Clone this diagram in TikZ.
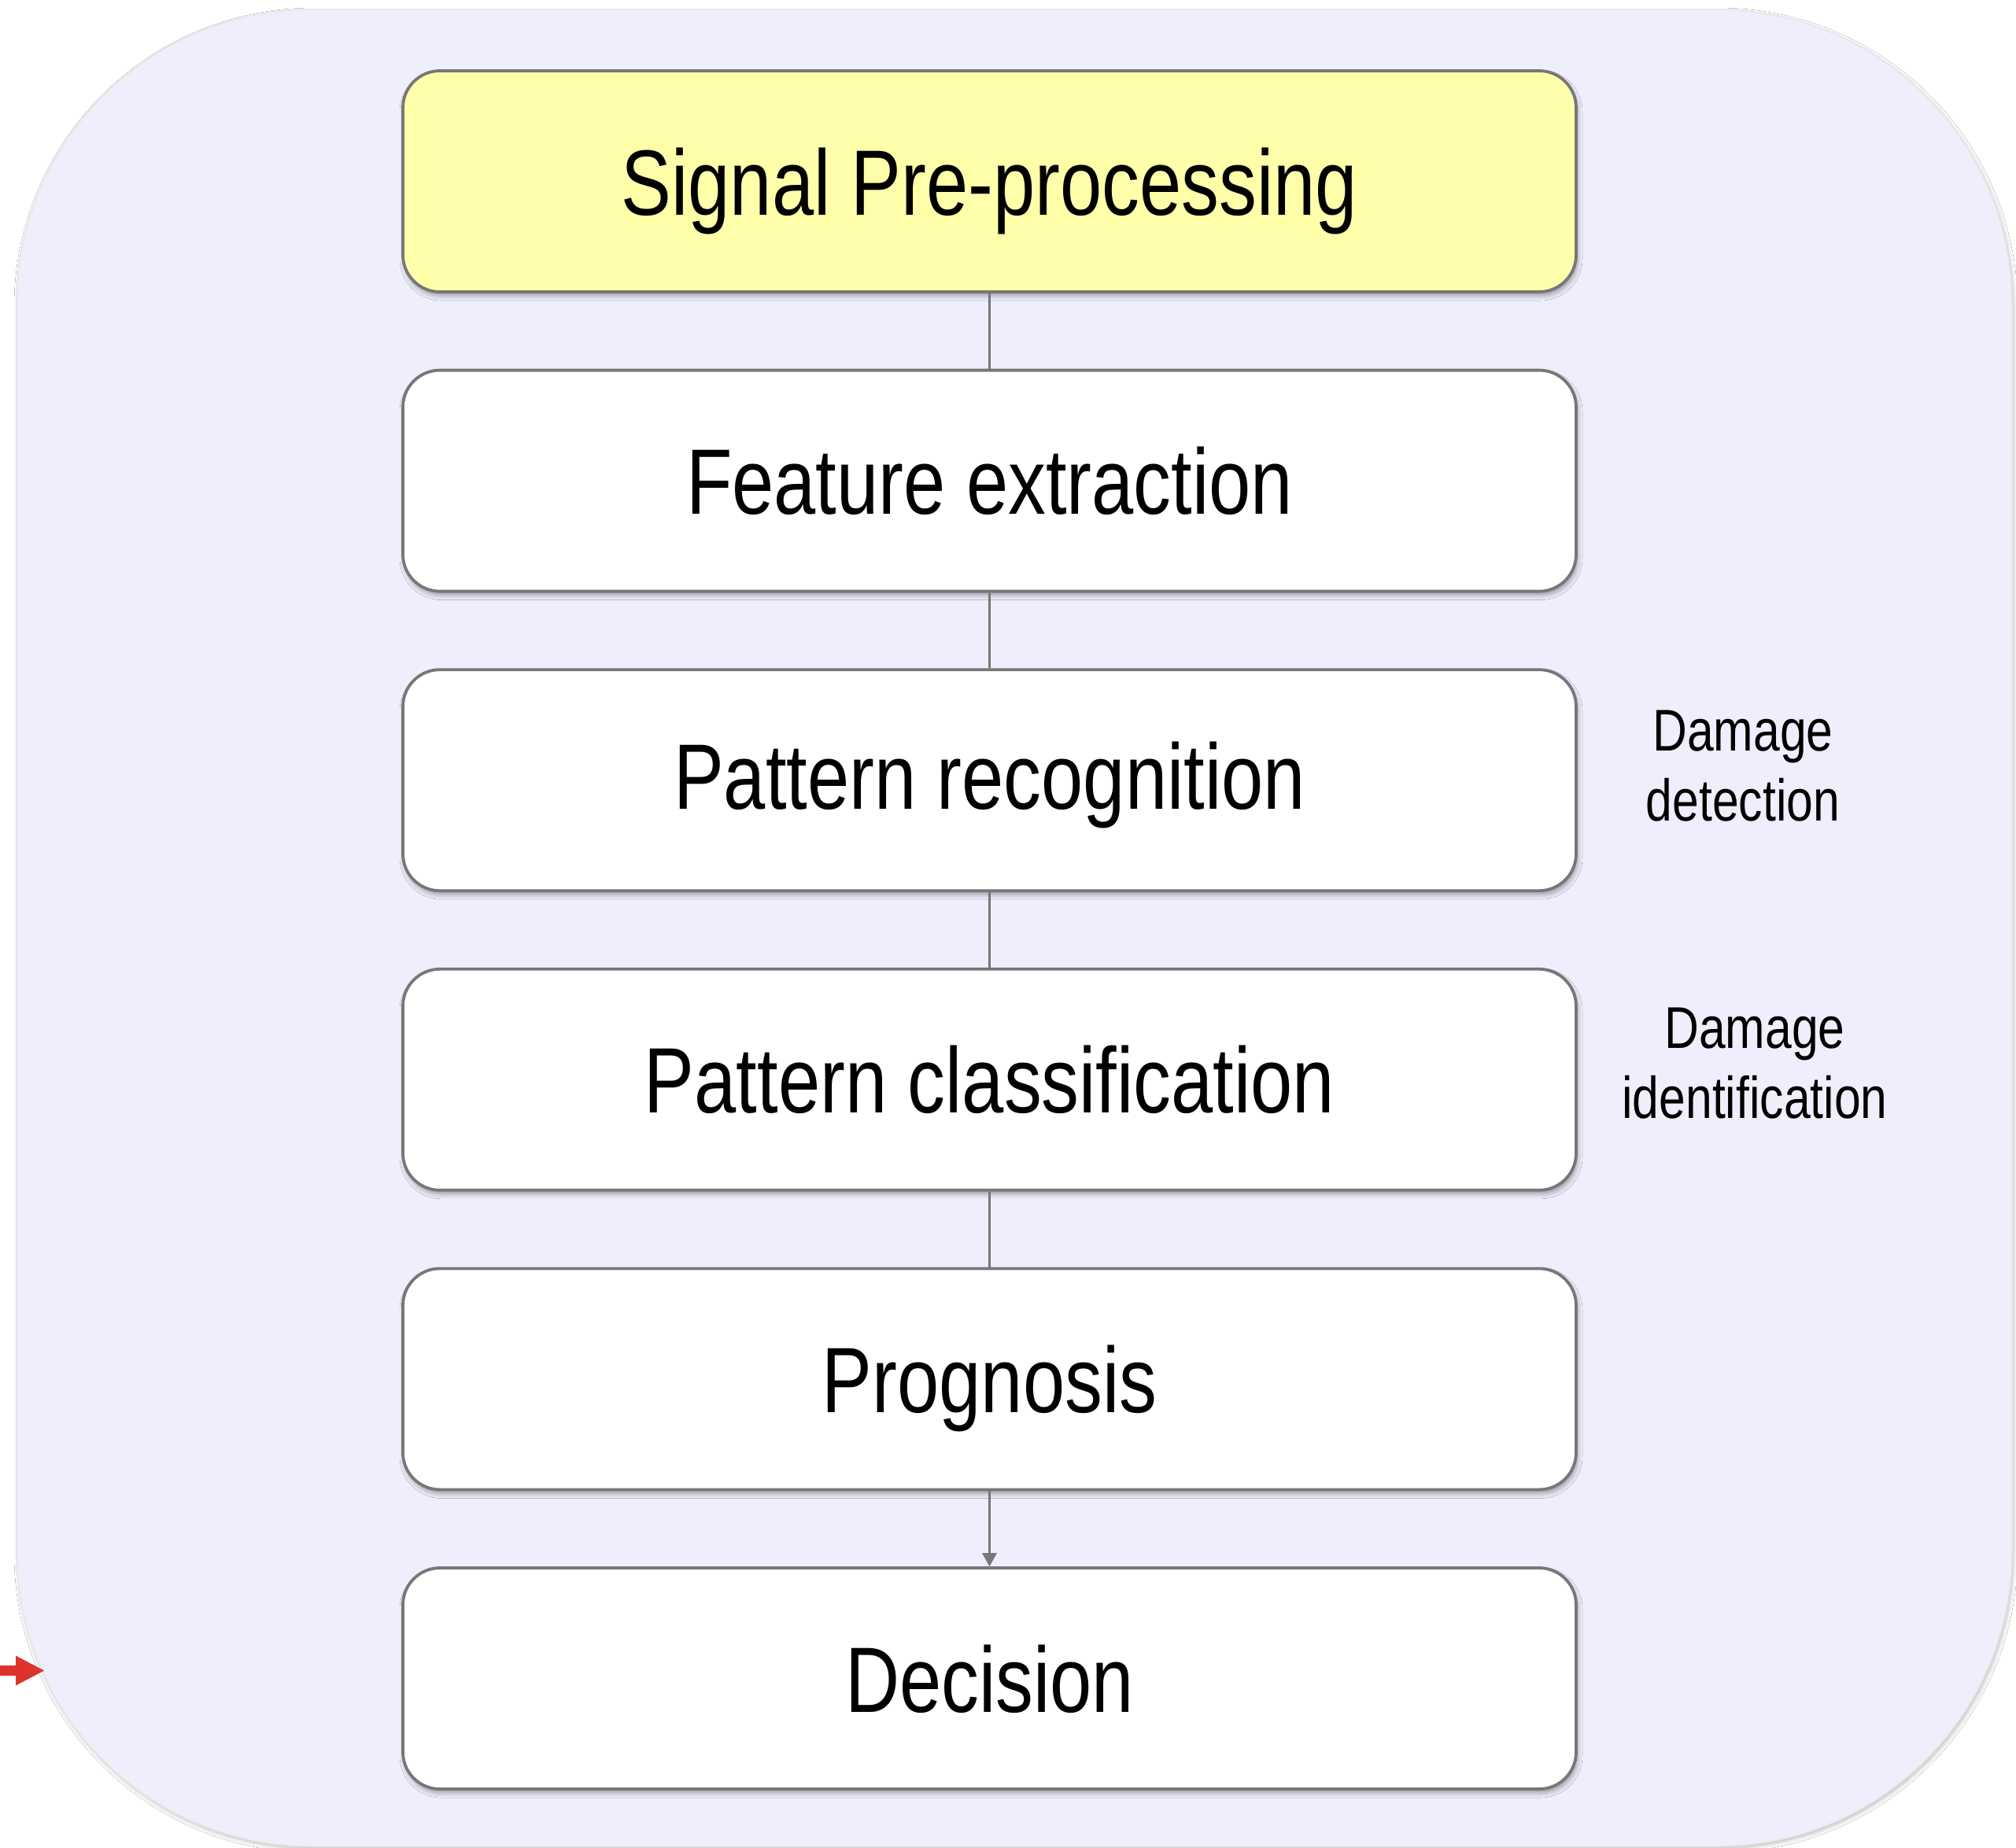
\documentclass[tikz,border=0pt]{standalone}
\usepackage{fontspec}
\newfontfamily\narrowfont[FakeStretch=0.81]{Liberation Sans}
\usetikzlibrary{arrows.meta,shadows.blur}
\definecolor{bgfill}{HTML}{EEEEFC}
\definecolor{boxline}{HTML}{777777}
\definecolor{yellowfill}{HTML}{FFFFAA}
\definecolor{arrowred}{HTML}{DD332D}
\begin{document}
\begin{tikzpicture}[
  stepbox/.style={draw=boxline, line width=0.038cm, rounded corners=0.47cm,
    minimum width=14.91cm, minimum height=2.81cm, inner sep=0pt, fill=white,
    text height=0.85cm, text depth=0cm,
    font=\narrowfont\fontsize{33.6pt}{40pt}\selectfont,
    blur shadow={shadow xshift=0.02cm, shadow yshift=-0.05cm, shadow blur radius=0.06cm, shadow opacity=35}},
  sidelabel/.style={align=center, inner sep=0pt, font=\narrowfont\fontsize{21.3pt}{25.3pt}\selectfont},
  link/.style={draw=boxline, line width=0.033cm}
]
\useasboundingbox (0,0) rectangle (25.62,-23.49);
\fill[white] (0,0) rectangle (25.62,-23.49);
\draw[draw=black!10, line width=0.015cm, fill=bgfill, rounded corners=3.75cm,
  blur shadow={shadow xshift=0.02cm, shadow yshift=-0.03cm, shadow blur radius=0.05cm, shadow opacity=25}]
  (0.21,-0.12) rectangle (25.57,-23.47);

\node[stepbox, fill=yellowfill] (b1) at (12.575,-2.305) {Signal Pre-processing};
\node[stepbox] (b2) at (12.575,-6.111) {Feature extraction};
\node[stepbox, text depth=0.12cm] (b3) at (12.575,-9.917) {Pattern recognition};
\node[stepbox] (b4) at (12.575,-13.723) {Pattern classification};
\node[stepbox] (b5) at (12.575,-17.529) {Prognosis};
\node[stepbox] (b6) at (12.575,-21.335) {Decision};

\draw[link] (b1.south) -- (b2.north);
\draw[link] (b2.south) -- (b3.north);
\draw[link] (b3.south) -- (b4.north);
\draw[link] (b4.south) -- (b5.north);
\draw[link, -{Triangle[length=0.17cm,width=0.18cm]}] (b5.south) -- (b6.north);

\node[sidelabel] (lab1) at (22.15,-9.74) {Damage\\detection};
\node[sidelabel] (lab2) at (22.30,-13.52) {Damage\\identification};

\coordinate (rtail) at (0,-21.235);
\coordinate (rtip) at (0.57,-21.235);
\draw[arrowred, line width=0.13cm, -{Triangle[length=0.37cm,width=0.35cm]}] (rtail) -- (rtip);
\end{tikzpicture}
\end{document}
